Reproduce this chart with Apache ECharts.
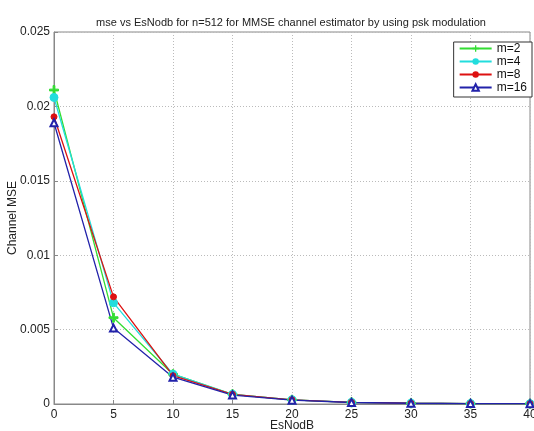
<!DOCTYPE html>
<html>
<head>
<meta charset="utf-8">
<script src="https://cdn.jsdelivr.net/npm/echarts@6/dist/echarts.min.js"></script>
<style>
  html, body { margin: 0; padding: 0; background: #fff; }
  #chart { width: 534px; height: 431px; }
</style>
</head>
<body>
<div id="chart"></div>
<script>
// values
const esNodb = [0, 5, 10, 15, 20, 25, 30, 35, 40];
const mse_m2 = [0.0211, 0.0058, 0.0020, 0.00065, 0.00028, 0.00011, 0.00005, 0.00003, 0.00002];
const mse_m4 = [0.0206, 0.0068, 0.0020, 0.00065, 0.00028, 0.00011, 0.00005, 0.00003, 0.00002];
const mse_m8 = [0.0193, 0.0072, 0.0019, 0.00065, 0.00028, 0.00011, 0.00005, 0.00003, 0.00002];
const mse_m16 = [0.0189, 0.0051, 0.0018, 0.00060, 0.00026, 0.00010, 0.00005, 0.00003, 0.00002];
const yTicks = [0, 0.005, 0.01, 0.015, 0.02, 0.025];

const plusPath = 'path://M4,0h2v4h4v2h-4v4h-2v-4h-4v-2h4z';
const font = 'Liberation Sans';

function pairs(ys) {
  return esNodb.map((x, i) => [x, ys[i]]);
}

function line(name, ys, color, symbol, size) {
  return {
    name: name,
    type: 'line',
    data: pairs(ys),
    symbol: symbol,
    symbolSize: size,
    lineStyle: { color: color, width: 1.3 },
    itemStyle: { color: color, borderColor: color },
    emphasis: { disabled: true }
  };
}

const chart = echarts.init(document.getElementById('chart'));
chart.setOption({
  backgroundColor: '#fff',
  animation: false,
  title: {
    text: 'mse vs EsNodb for n=512 for MMSE channel estimator by using psk modulation',
    left: 286,
    textAlign: 'center',
    top: 12,
    textStyle: { fontFamily: font, fontSize: 11, fontWeight: 'normal', color: '#222' }
  },
  legend: {
    orient: 'vertical',
    right: 2,
    top: 42,
    itemWidth: 32,
    itemHeight: 8,
    itemGap: 0,
    padding: [0, 5, 3, 5],
    borderColor: '#333',
    borderWidth: 1,
    backgroundColor: '#fff',
    textStyle: { fontFamily: font, fontSize: 12, lineHeight: 13, color: '#111' },
    data: ['m=2', 'm=4', 'm=8', 'm=16']
  },
  grid: {
    left: 54, right: 4, top: 32, bottom: 27,
    outerBoundsMode: 'none',
    containLabel: false,
    show: true, borderColor: '#888', borderWidth: 1
  },
  xAxis: {
    type: 'value',
    min: 0, max: 40, interval: 5,
    name: 'EsNodB',
    nameLocation: 'middle',
    nameMoveOverlap: false,
    nameGap: 16,
    nameTextStyle: { fontFamily: font, fontSize: 12, color: '#222' },
    axisLine: { lineStyle: { color: '#888' } },
    axisTick: { show: true, inside: true, length: 4, lineStyle: { color: '#888' } },
    axisLabel: { fontFamily: font, fontSize: 12, color: '#222', margin: 5 },
    splitLine: { show: true, lineStyle: { color: '#bbb', type: [1, 2] } }
  },
  yAxis: {
    type: 'value',
    min: 0, max: 0.025, interval: 0.005,
    name: 'Channel MSE',
    nameLocation: 'middle',
    nameMoveOverlap: false,
    nameGap: 35,
    nameTextStyle: { fontFamily: font, fontSize: 12, color: '#222' },
    axisLine: { show: true, lineStyle: { color: '#888' } },
    axisTick: { show: true, inside: true, length: 4, lineStyle: { color: '#888' } },
    axisLabel: {
      fontFamily: font, fontSize: 12, color: '#222', margin: 4,
      formatter: v => {
        const t = yTicks.find(k => Math.abs(k - v) < 1e-9);
        return t === undefined ? '' : String(+t.toFixed(3));
      }
    },
    splitLine: { show: true, lineStyle: { color: '#bbb', type: [1, 2] } }
  },
  series: [
    line('m=2', mse_m2, '#33dd33', plusPath, 9),
    line('m=4', mse_m4, '#22dddd', 'circle', 8),
    line('m=8', mse_m8, '#dd1111', 'circle', 6),
    line('m=16', mse_m16, '#2222aa', 'emptyTriangle', 7)
  ]
});
</script>
</body>
</html>
